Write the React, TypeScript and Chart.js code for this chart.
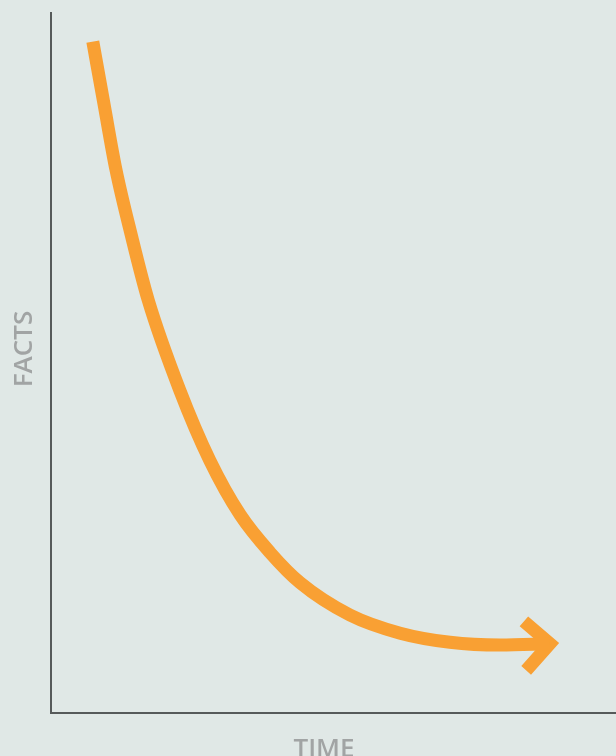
import React, { useEffect, useRef } from "react";
import { Chart, registerables } from "chart.js";

Chart.register(...registerables);

// Curve: facts remembered over time (0-100 on both axes)
const timeValues = [7.4, 9.4, 11.5, 14.2, 17.2, 22.8, 28.1, 33.5, 38.8, 44.1, 52.9, 61.8, 70.6, 79.5, 88.3];
const factValues = [95.9, 86.9, 77.6, 68.3, 59.0, 46.1, 36.1, 28.3, 22.9, 18.6, 14.0, 11.4, 10.1, 9.7, 9.9];
// Arrow head (chevron) at the end of the curve
const arrowTime = [83.7, 88.3, 84.1];
const arrowFacts = [13.1, 9.9, 6.1];

const xLabel = "TIME";
const yLabel = "FACTS";

const ORANGE = "#f9a033";
const AXIS = "#565a5a";
const LABEL = "#a1a4a4";
const BG = "#e0e8e6";

const bgPlugin = {
  id: "bg",
  beforeDraw(chart: any) {
    const { ctx, width, height } = chart;
    ctx.save();
    ctx.fillStyle = BG;
    ctx.fillRect(0, 0, width, height);
    ctx.restore();
  },
};

const labelPlugin = {
  id: "axisLabels",
  afterDraw(chart: any) {
    const { ctx, chartArea } = chart;
    ctx.save();
    ctx.fillStyle = LABEL;
    ctx.font = '600 26px "Open Sans"';
    ctx.textAlign = "center";
    ctx.textBaseline = "alphabetic";
    ctx.fillText(xLabel, chartArea.left + 273, chartArea.bottom + 44);
    ctx.translate(chartArea.left - 19, chartArea.top + 336);
    ctx.rotate(-Math.PI / 2);
    ctx.fillText(yLabel, 0, 0);
    ctx.restore();
  },
};

export default function App() {
  const ref = useRef<HTMLCanvasElement | null>(null);

  useEffect(() => {
    document.body.style.margin = "0";
    const canvas = ref.current!;
    const chart = new Chart(canvas, {
      type: "line",
      data: {
        datasets: [
          {
            data: timeValues.map((t, i) => ({ x: t, y: factValues[i] })),
            borderColor: ORANGE,
            borderWidth: 13,
            pointRadius: 0,
            cubicInterpolationMode: "monotone",
            borderCapStyle: "butt",
            fill: false,
            clip: false as any,
          },
          {
            data: arrowTime.map((t, i) => ({ x: t, y: arrowFacts[i] })),
            borderColor: ORANGE,
            borderWidth: 13,
            pointRadius: 0,
            tension: 0,
            borderCapStyle: "butt",
            borderJoinStyle: "miter",
            fill: false,
            clip: false as any,
          },
        ],
      },
      options: {
        animation: false,
        responsive: false,
        maintainAspectRatio: false,
        layout: { autoPadding: false, padding: { top: 13, left: 0, right: 0, bottom: 0 } },
        plugins: { legend: { display: false }, tooltip: { enabled: false } },
        scales: {
          x: {
            type: "linear",
            min: 0,
            max: 100,
            grid: { display: false },
            ticks: { display: false },
            border: { display: true, color: AXIS, width: 2 },
            afterFit: (s: any) => {
              s.height = 43;
            },
          },
          y: {
            type: "linear",
            min: 0,
            max: 100,
            grid: { display: false },
            ticks: { display: false },
            border: { display: true, color: AXIS, width: 2 },
            afterFit: (s: any) => {
              s.width = 51;
            },
          },
        },
      } as any,
      plugins: [bgPlugin, labelPlugin],
    });
    return () => chart.destroy();
  }, []);

  return (
    <div style={{ width: 616, height: 756, background: BG }}>
      <canvas ref={ref} width={616} height={756} style={{ display: "block", width: 616, height: 756 }} />
    </div>
  );
}
